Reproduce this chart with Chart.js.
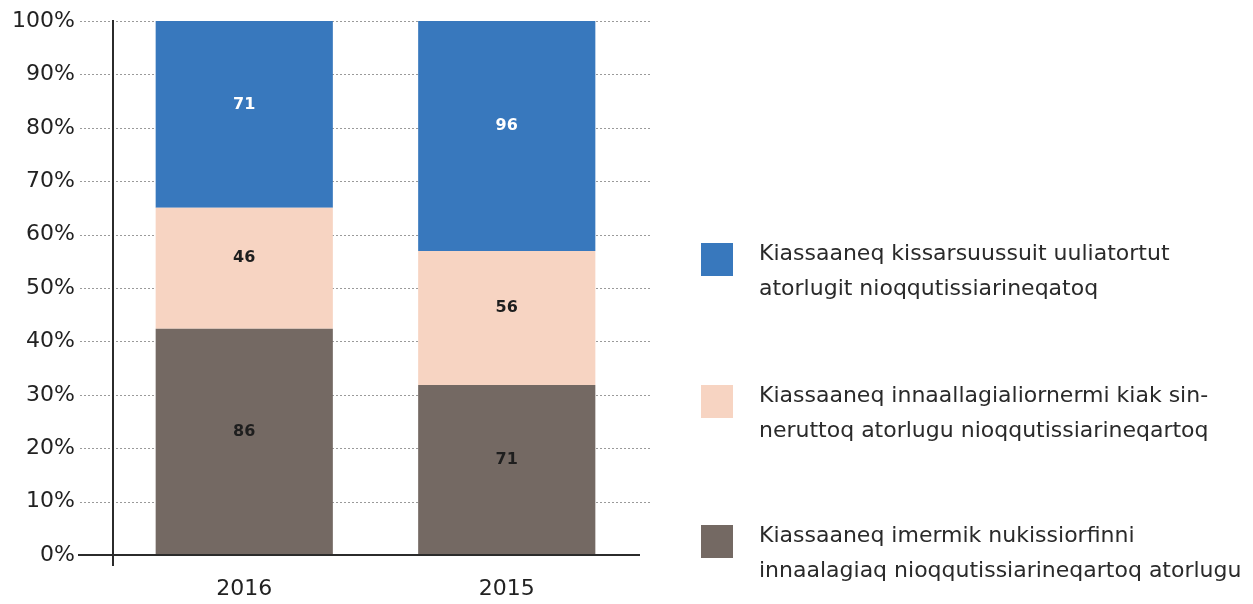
<!DOCTYPE html>
<html>
<head>
<meta charset="utf-8">
<script src="https://cdn.jsdelivr.net/npm/chart.js@4"></script>
<style>
  html, body { margin: 0; padding: 0; background: #fff; }
  #wrap { width: 1253px; height: 604px; }
</style>
</head>
<body>
<div id="wrap"><canvas id="chart"></canvas></div>
<script>
  // ---- DATA ----
  const years = ["2016", "2015"];
  const countsOwnFunds = [86, 71];      // imermik nukissiorfinni
  const countsMixed = [46, 56];         // innaallagialiornermi kiak sinneruttoq
  const countsOil = [71, 96];           // kissarsuussuit uuliatortut
  const yTicks = [0, 10, 20, 30, 40, 50, 60, 70, 80, 90, 100];

  const seriesLabels = {
    own: ["Kiassaaneq imermik nukissiorfinni", "innaalagiaq nioqqutissiarineqartoq atorlugu"],
    mixed: ["Kiassaaneq innaallagialiornermi kiak sin-", "neruttoq atorlugu nioqqutissiarineqartoq"],
    oil: ["Kiassaaneq kissarsuussuit uuliatortut", "atorlugit nioqqutissiarineqatoq"]
  };

  const FONT = "'DejaVu Sans', sans-serif";

  // share of each year's total, so the bars stack to 100%
  const totals = years.map((_, i) => countsOwnFunds[i] + countsMixed[i] + countsOil[i]);
  const share = arr => arr.map((v, i) => v / totals[i] * 100);

  const datasets = [
    { label: seriesLabels.own, counts: countsOwnFunds, data: share(countsOwnFunds), backgroundColor: "#746963", textColor: "#1e1e1e" },
    { label: seriesLabels.mixed, counts: countsMixed, data: share(countsMixed), backgroundColor: "#f7d4c2", textColor: "#1e1e1e" },
    { label: seriesLabels.oil, counts: countsOil, data: share(countsOil), backgroundColor: "#3878bd", textColor: "#ffffff" }
  ];

  // ---- PLUGIN: dotted grid + axis lines ----
  const gridAndAxes = {
    id: "gridAndAxes",
    beforeDatasetsDraw(chart) {
      const { ctx, chartArea, scales } = chart;
      ctx.save();
      ctx.strokeStyle = "#9a9a9a";
      ctx.lineWidth = 1;
      ctx.setLineDash([2, 2]);
      yTicks.forEach(t => {
        if (t === 0) return;
        const y = Math.round(scales.y.getPixelForValue(t)) + 0.5;
        ctx.beginPath();
        ctx.moveTo(chartArea.left - 33, y);
        ctx.lineTo(chartArea.right + 14, y);
        ctx.stroke();
      });
      ctx.restore();
    },
    afterDatasetsDraw(chart) {
      const { ctx, chartArea, scales } = chart;
      const y0 = Math.round(scales.y.getPixelForValue(0));
      ctx.save();
      ctx.strokeStyle = "#2b2b2b";
      ctx.lineWidth = 2;
      ctx.beginPath();
      ctx.moveTo(chartArea.left - 35, y0);
      ctx.lineTo(chartArea.right + 2, y0);
      ctx.stroke();
      ctx.beginPath();
      ctx.moveTo(chartArea.left, chartArea.top - 1);
      ctx.lineTo(chartArea.left, y0 + 11);
      ctx.stroke();
      ctx.restore();
    }
  };

  // ---- PLUGIN: counts inside the segments ----
  const segmentLabels = {
    id: "segmentLabels",
    afterDatasetsDraw(chart) {
      const { ctx } = chart;
      ctx.save();
      ctx.font = "bold 16px " + FONT;
      ctx.textAlign = "center";
      ctx.textBaseline = "middle";
      chart.data.datasets.forEach((ds, di) => {
        chart.getDatasetMeta(di).data.forEach((bar, i) => {
          const mid = (bar.y + bar.base) / 2 - 10;
          ctx.fillStyle = ds.textColor;
          ctx.fillText(String(ds.counts[i]), bar.x, mid);
        });
      });
      ctx.restore();
    }
  };

  // ---- PLUGIN: legend on the right ----
  const sideLegend = {
    id: "sideLegend",
    afterDraw(chart) {
      const { ctx, chartArea } = chart;
      const x = chartArea.right + 63;
      const tops = [243, 385, 525];
      ctx.save();
      ctx.font = "22px " + FONT;
      ctx.textBaseline = "middle";
      const order = chart.data.datasets.slice().reverse();
      order.forEach((ds, k) => {
        const top = tops[k];
        ctx.fillStyle = ds.backgroundColor;
        ctx.fillRect(x, top, 32, 33);
        ctx.fillStyle = "#2a2a2a";
        ds.label.forEach((line, j) => {
          ctx.fillText(line, x + 58, top + 11 + j * 35);
        });
      });
      ctx.restore();
    }
  };

  // ---- CHART ----
  new Chart(document.getElementById("chart"), {
    type: "bar",
    data: { labels: years, datasets: datasets },
    options: {
      responsive: true,
      maintainAspectRatio: false,
      animation: false,
      layout: { padding: { top: 21, right: 615, bottom: 0, left: 0 } },
      datasets: { bar: { categoryPercentage: 1, barPercentage: 0.675 } },
      plugins: { legend: { display: false }, tooltip: { enabled: false } },
      scales: {
        x: {
          stacked: true,
          grid: { display: false, drawTicks: false },
          border: { display: false },
          ticks: { color: "#222", font: { family: FONT, size: 22 }, padding: 21 },
          afterFit(scale) { scale.height = 49; }
        },
        y: {
          stacked: true,
          min: 0,
          max: 100,
          grid: { display: false, drawTicks: false },
          border: { display: false },
          afterBuildTicks(scale) { scale.ticks = yTicks.map(v => ({ value: v })); },
          ticks: {
            color: "#222",
            font: { family: FONT, size: 22 },
            padding: 38,
            callback: v => v + "%"
          },
          afterFit(scale) {
            scale.width = 113;
            scale.paddingTop = 13;
            scale.paddingBottom = 13;
          }
        }
      }
    },
    plugins: [gridAndAxes, segmentLabels, sideLegend]
  });
</script>
</body>
</html>
